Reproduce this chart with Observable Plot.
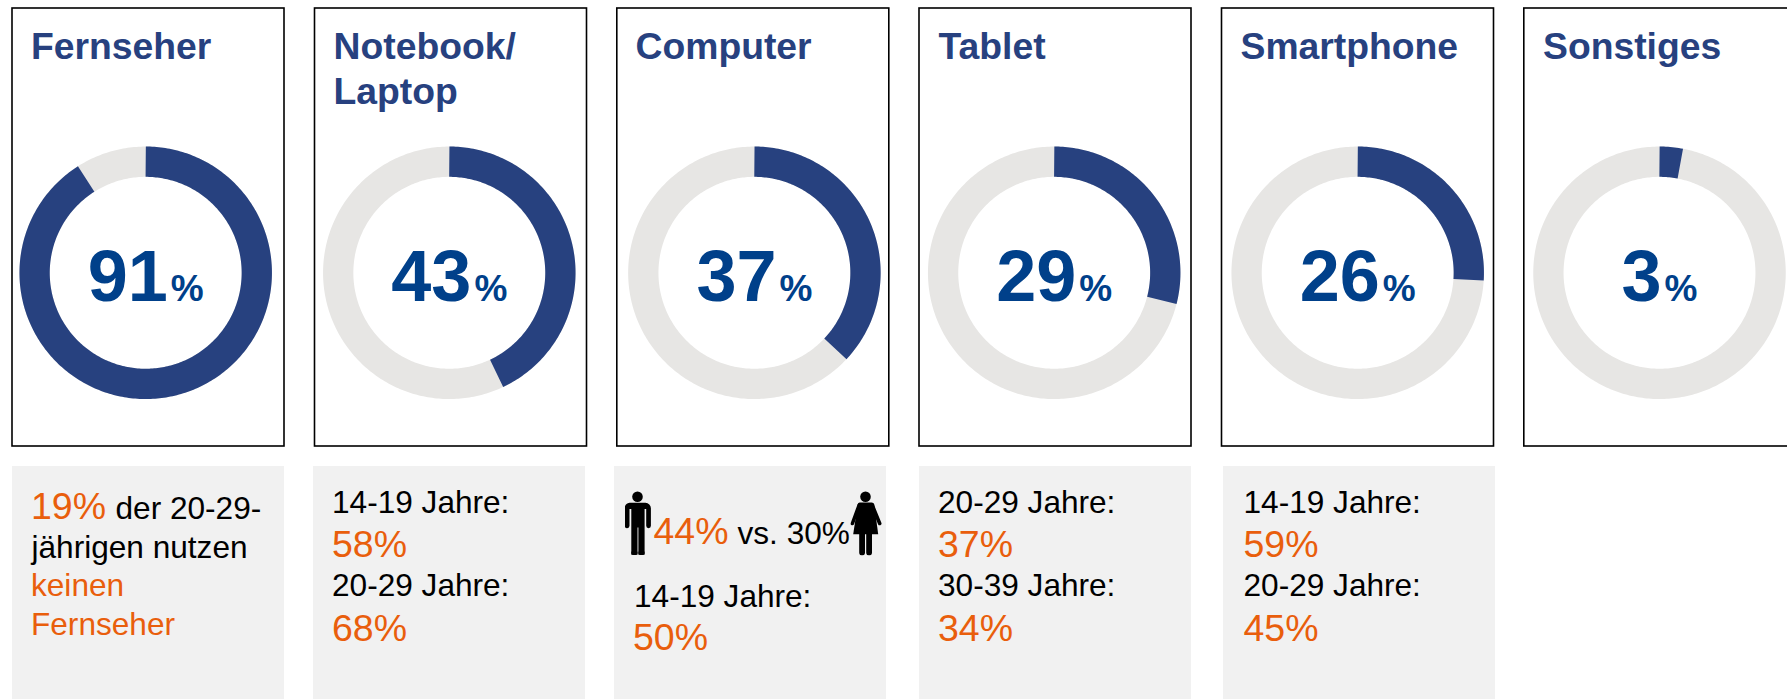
<!DOCTYPE html>
<html lang="de">
<head>
<meta charset="utf-8">
<title>Geräte</title>
<script src="https://cdn.jsdelivr.net/npm/d3@7"></script>
<script src="https://cdn.jsdelivr.net/npm/@observablehq/plot@0.6"></script>
<style>
html,body{margin:0;padding:0;background:#fff;overflow:hidden;width:1787px;height:699px}
svg{display:block}
</style>
</head>
<body>
<div id="chart"></div>
<script>
// ---- data ----
const devices = ["Fernseher", "Notebook/", "Computer", "Tablet", "Smartphone", "Sonstiges"];
const secondLine = ["", "Laptop", "", "", "", ""];
const shares = [91, 43, 37, 29, 26, 3];
const ageLabels = [null, ["14-19 Jahre:", "20-29 Jahre:"], null, ["20-29 Jahre:", "30-39 Jahre:"], ["14-19 Jahre:", "20-29 Jahre:"], null];
const ageValues = [null, ["58%", "68%"], null, ["37%", "34%"], ["59%", "45%"], null];

// ---- layout ----
const W = 1787, H = 699;
const boxLeft = [12, 314.5, 616.8, 919, 1221.5, 1523.8];
const boxWidth = 272, boxTop = 8, boxBottom = 446;
const panelLeft = [12, 313, 614, 919, 1223], panelWidth = 272, panelTop = 466;
const donutX = [145.2, 448.8, 753.9, 1053.7, 1357.2, 1659], donutY = 272.3, ringR = 111.1, ringW = 30.3;
const titleX = [30.5, 333, 635, 938, 1240, 1542.5], titleY = [58.4, 103.3], titleSize = 37.3;
const numSize = 72, pctSize = 37, numY = 300.7;
const textX = [null, 331.5, null, 937.5, 1243];
const labelY = [512.7, 595.7], valueY = [556, 640];
const labelSize = 31.6, valueSize = 37.5;
const BLUE = "#27417F", NUM = "#00408A", GREY = "#E7E6E4", PANEL = "#F1F1F1", ORANGE = "#E95E0C", BLACK = "#000";

// ---- helpers ----
const font = "Liberation Sans, Arial, sans-serif";
function texts(rows, size, fill, weight = "normal") {
  return Plot.text(rows, {
    x: "x", y: d => d.y - 0.32 * size, text: "t",
    textAnchor: "start", lineAnchor: "middle",
    fontSize: size, fontWeight: weight, fill, fontFamily: font
  });
}
function arc(i, from, to) {
  const n = Math.max(2, Math.ceil((to - from) * 3.6) + 1);
  return d3.range(n).map(k => {
    const a = (from + (to - from) * k / (n - 1)) / 100 * 2 * Math.PI;
    return {x: donutX[i] + ringR * Math.sin(a), y: donutY - ringR * Math.cos(a), i};
  });
}
const svgUri = s => "data:image/svg+xml;utf8," + encodeURIComponent(s);
const man = svgUri(`<svg xmlns="http://www.w3.org/2000/svg" viewBox="0 0 27 65">
<circle cx="13" cy="6.3" r="5.3"/>
<path d="M5 12.3H21a5.4 5.4 0 0 1 5.4 5.4V35.3a2.35 2.35 0 0 1-4.7 0V18.5h-1.6V64.3h-6.2V37h-0.9V64.3H6.8V18.5H5V35.3a2.35 2.35 0 0 1-4.7 0V17.7A5.4 5.4 0 0 1 5 12.3Z"/>
<rect x="6.8" y="60" width="6.2" height="4.6" rx="3"/><rect x="13.9" y="60" width="6.2" height="4.6" rx="3"/>
</svg>`);
const woman = svgUri(`<svg xmlns="http://www.w3.org/2000/svg" viewBox="0 0 32 65">
<circle cx="15.3" cy="6.3" r="5.3"/>
<path d="M9.5 12H21.5Q23.5 12 24 14L28 43.7H3L7.5 14Q8 12 9.5 12Z"/>
<path d="M9 14.5L2.2 33M22 14.5L29.5 33" stroke="#000" stroke-width="3.6" stroke-linecap="round" fill="none"/>
<path d="M9 40H14.8V62a2.9 2.9 0 0 1-5.8 0ZM16 40H21.8V62a2.9 2.9 0 0 1-5.8 0Z"/>
</svg>`);

// ---- table rows for the marks ----
const titles = devices.flatMap((t, i) => [
  {t, x: titleX[i], y: titleY[0]},
  ...(secondLine[i] ? [{t: secondLine[i], x: titleX[i], y: titleY[1]}] : [])
]);
const numbers = shares.map((v, i) => {
  const s = String(v);
  const wNum = s.length * 0.556 * numSize, gap = 3, wPct = 0.889 * pctSize;
  const x0 = donutX[i] - (wNum + gap + wPct) / 2;
  return {t: s, x: x0, xp: x0 + wNum + gap, i};
});
const labels = [], values = [];
ageLabels.forEach((ls, i) => {
  if (!ls) return;
  ls.forEach((t, k) => {
    labels.push({t, x: textX[i], y: labelY[k]});
    values.push({t: ageValues[i][k], x: textX[i], y: valueY[k]});
  });
});
// free-text panels
labels.push(
  {t: "der 20-29-", x: 115, y: 518},
  {t: "jährigen nutzen", x: 31, y: 557.7},
  {t: "vs. 30%", x: 737, y: 543},
  {t: "14-19 Jahre:", x: 633.5, y: 606}
);
values.push(
  {t: "19%", x: 30.5, y: 518},
  {t: "44%", x: 653, y: 543},
  {t: "50%", x: 632.5, y: 649}
);
const orangeSmall = [
  {t: "keinen", x: 30.5, y: 595.7},
  {t: "Fernseher", x: 30.5, y: 634}
];

const plot = Plot.plot({
  width: W, height: H,
  marginTop: 0, marginRight: 0, marginBottom: 0, marginLeft: 0,
  x: {domain: [0, W], range: [0, W], axis: null},
  y: {domain: [0, H], range: [0, H], axis: null},
  style: {fontFamily: font, background: "#fff"},
  marks: [
    Plot.rect(devices, {
      x1: (d, i) => boxLeft[i], x2: (d, i) => boxLeft[i] + boxWidth,
      y1: boxTop, y2: boxBottom, fill: "#fff", stroke: BLACK, strokeWidth: 1.6
    }),
    Plot.rect(panelLeft, {
      x1: d => d, x2: d => d + panelWidth,
      y1: panelTop, y2: H, fill: PANEL
    }),
    Plot.line(shares.flatMap((v, i) => arc(i, 0, 100.5)), {
      x: "x", y: "y", z: "i", stroke: GREY, strokeWidth: ringW,
      strokeLinecap: "butt", curve: "linear"
    }),
    Plot.line(shares.flatMap((v, i) => arc(i, 0, v)), {
      x: "x", y: "y", z: "i", stroke: BLUE, strokeWidth: ringW,
      strokeLinecap: "butt", curve: "linear"
    }),
    texts(titles, titleSize, BLUE, "bold"),
    texts(numbers.map(d => ({t: d.t, x: d.x, y: numY})), numSize, NUM, "bold"),
    texts(numbers.map(d => ({t: "%", x: d.xp, y: numY})), pctSize, NUM, "bold"),
    texts(labels, labelSize, BLACK),
    texts(values, valueSize, ORANGE),
    texts(orangeSmall, labelSize, ORANGE),
    Plot.image([{x: 637.5, y: 522.5, src: man, w: 27}, {x: 865.7, y: 522.5, src: woman, w: 32}], {
      x: "x", y: "y", src: "src", width: "w", height: 65
    })
  ]
});
document.getElementById("chart").append(plot);
</script>
</body>
</html>
